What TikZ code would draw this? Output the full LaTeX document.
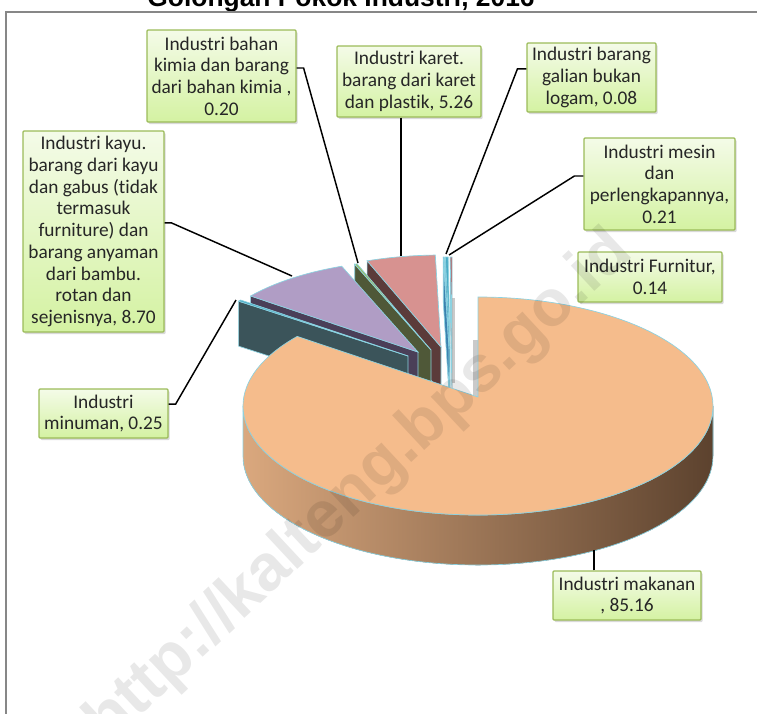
\documentclass[tikz,border=0pt]{standalone}
\usepackage{fontspec}
\setmainfont[Ligatures=NoCommon]{Carlito}
\newfontfamily\arialfont{Liberation Sans}
\usetikzlibrary{shadows,calc}
\definecolor{boxtop}{RGB}{244,251,232}
\definecolor{boxbot}{RGB}{212,242,162}
\definecolor{boxedge}{RGB}{155,187,89}
\definecolor{framegray}{RGB}{135,135,135}
\definecolor{edgecyan}{RGB}{140,210,225}
\definecolor{maktop}{RGB}{245,188,140}
\definecolor{maksideL}{RGB}{218,168,126}
\definecolor{maksideR}{RGB}{92,66,46}
\definecolor{tealtop}{RGB}{75,172,198}
\definecolor{tealwall}{RGB}{59,84,90}
\definecolor{lavtop}{RGB}{176,157,197}
\definecolor{lavwall}{RGB}{74,63,88}
\definecolor{olivetop}{RGB}{155,187,89}
\definecolor{olivewall}{RGB}{79,88,56}
\definecolor{pinktop}{RGB}{215,146,144}
\definecolor{pinkwall}{RGB}{91,59,58}
\definecolor{bluetop}{RGB}{79,160,210}
\definecolor{bluewall}{RGB}{60,130,175}
\definecolor{aquatop}{RGB}{75,172,198}
\definecolor{aquawall}{RGB}{55,135,160}
\definecolor{redtop}{RGB}{192,80,77}
\definecolor{redwall}{RGB}{150,60,58}
\begin{document}
\begin{tikzpicture}[x=0.75pt, y=0.75pt,
  label box/.style={draw=boxedge, line width=0.9pt, top color=boxtop, bottom color=boxbot,
    rounded corners=0.8pt, drop shadow={opacity=0.3, shadow xshift=1.2pt, shadow yshift=-1.5pt},
    align=center, inner sep=0pt, text=black!85, font=\fontsize{14.5}{16.3}\selectfont},
  leader/.style={black, line width=1.1pt},
  face/.style={draw=edgecyan, line width=0.5pt},
  shade strip/.style={fill=black!35, opacity=0.6}]
\useasboundingbox (0,0) rectangle (757,-714);
\clip (0,0) rectangle (757,-714);
% title and frame
\node[anchor=base, font=\arialfont\bfseries\fontsize{19.8}{22}\selectfont] (title) at (341,-6) {Golongan Pokok Industri, 2016};
\draw[framegray, line width=1.5pt] (6,-800) -- (6,-12) -- (800,-12);
% exploded slices, back to front
\filldraw[face, fill=redwall] (452,-349) -- ++(90.5:211 and 92) -- ++(0,-45) -- (452,-394) -- cycle;
\filldraw[face, fill=redtop] (452,-349) -- ++(90.5:211 and 92) arc[start angle=90.5, end angle=90, x radius=211, y radius=92] -- cycle;
\filldraw[face, fill=aquawall] (450,-349) -- ++(91.26:211 and 92) -- ++(0,-45) -- (450,-394) -- cycle;
\filldraw[face, fill=aquatop] (450,-349) -- ++(91.26:211 and 92) arc[start angle=91.26, end angle=90.5, x radius=211, y radius=92] -- cycle;
\filldraw[face, fill=bluewall] (449,-349) -- ++(91.55:211 and 92) -- ++(0,-45) -- (449,-394) -- cycle;
\filldraw[face, fill=bluetop] (449,-349) -- ++(91.55:211 and 92) arc[start angle=91.55, end angle=91.26, x radius=211, y radius=92] -- cycle;
\fill[shade strip] (452,-298) -- (455,-298) -- (455,-383) -- (452,-383) -- cycle;
\filldraw[face, fill=pinkwall] (441,-347) -- ++(110.5:211 and 92) -- ++(0,-45) -- (441,-392) -- cycle;
\filldraw[face, fill=pinktop] (441,-347) -- ++(110.5:211 and 92) arc[start angle=110.5, end angle=91.55, x radius=211, y radius=92] -- cycle;
\filldraw[face, fill=olivewall] (431,-350) -- ++(111.2:211 and 92) -- ++(0,-45) -- (431,-395) -- cycle;
\filldraw[face, fill=olivetop] (431,-350) -- ++(111.2:211 and 92) arc[start angle=111.2, end angle=110.5, x radius=211, y radius=92] -- cycle;
\filldraw[face, fill=lavwall] (418,-352) -- ++(142.5:211 and 92) -- ++(0,-45) -- (418,-397) -- cycle;
\filldraw[face, fill=lavtop] (418,-352) -- ++(142.5:211 and 92) arc[start angle=142.5, end angle=111.2, x radius=211, y radius=92] -- cycle;
\filldraw[face, fill=tealwall] (408,-356) -- ++(143.4:211 and 92) -- ++(0,-45) -- (408,-401) -- cycle;
\filldraw[face, fill=tealtop] (408,-356) -- ++(143.4:211 and 92) arc[start angle=143.4, end angle=142.5, x radius=211, y radius=92] -- cycle;
% makanan
\fill[shade strip] (473,-340) -- (478,-340) -- (478,-397) -- (473,-395) -- cycle;
\filldraw[face, left color=maksideL, right color=maksideR] (243,-406) arc[start angle=180, end angle=360, x radius=235, y radius=109]
  -- ++(0,-50) arc[start angle=0, end angle=-180, x radius=235, y radius=109] -- cycle;
\filldraw[face, fill=maktop] (478,-397) -- (478,-297) arc[start angle=90, end angle=-219.7, x radius=235, y radius=109] -- cycle;
% labels
\node[label box, minimum width=111.75pt, minimum height=69pt] (kimia) at (221.5,-76) {Industri bahan\\kimia dan barang\\dari bahan kimia ,\\0.20};
\node[label box, minimum width=108pt, minimum height=53.25pt] (karet) at (409,-81.5) {Industri karet.\\barang dari karet\\dan plastik, 5.26};
\node[label box, minimum width=96.75pt, minimum height=51.75pt] (galian) at (591.5,-77.5) {Industri barang\\galian bukan\\logam, 0.08};
\node[label box, minimum width=105.75pt, minimum height=150.75pt] (kayu) at (93.5,-231.5) {Industri kayu.\\barang dari kayu\\dan gabus (tidak\\termasuk\\furniture) dan\\barang anyaman\\dari bambu.\\rotan dan\\sejenisnya, 8.70};
\node[label box, minimum width=113.25pt, minimum height=69pt] (mesin) at (659.5,-184) {Industri mesin\\dan\\perlengkapannya,\\0.21};
\node[label box, minimum width=108pt, minimum height=37.5pt] (furnitur) at (650,-277) {Industri Furnitur,\\0.14};
\node[label box, minimum width=96.75pt, minimum height=36.75pt] (minuman) at (103.5,-413.5) {Industri\\minuman, 0.25};
\node[label box, minimum width=111pt, minimum height=36.75pt] (makanan) at (627,-595.5) {Industri makanan\\, 85.16};
% leader ends
\coordinate (kimiaend) at (358,-263);
\coordinate (karetend) at (401,-256);
\coordinate (galianend) at (446,-254);
\coordinate (mesinend) at (449,-255);
\coordinate (kayuend) at (292,-276);
\coordinate (minumanend) at (236,-300);
\coordinate (makananend) at (594,-550);
\draw[leader] ([yshift=6pt]kimia.east) -- ++(7,0) -- (kimiaend);
\draw[leader] ([xshift=-6pt]karet.south) -- (karetend);
\draw[leader] ([yshift=6.4pt]galian.west) -- ++(-9,0) -- (galianend);
\draw[leader] ([yshift=6pt]mesin.west) -- ++(-9,0) -- (mesinend);
\draw[leader] ([yshift=6.4pt]kayu.east) -- ++(7,0) -- (kayuend);
\draw[leader] ([yshift=7pt]minuman.east) -- ++(7,0) -- (minumanend);
\draw[leader] ([xshift=-24.75pt]makanan.north) -- (makananend);
% watermark
\node[rotate=43, text=black, text opacity=0.09, font=\arialfont\bfseries\fontsize{49}{49}\selectfont] (mark) at (360,-488) {http://kalteng.bps.go.id};
\end{tikzpicture}
\end{document}
